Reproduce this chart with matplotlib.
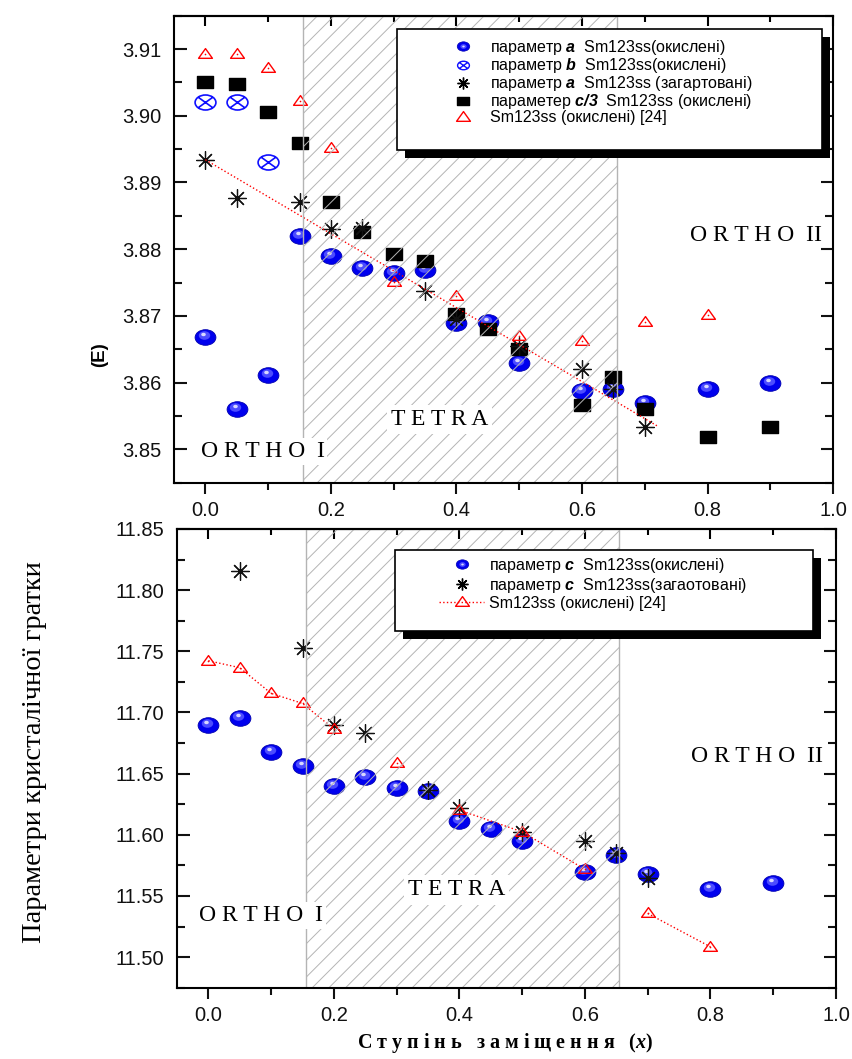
import matplotlib
matplotlib.use("Agg")
import matplotlib.pyplot as plt
import matplotlib.transforms as mtransforms
import numpy as np
from matplotlib.path import Path
from matplotlib.patches import Rectangle
from matplotlib.lines import Line2D
from matplotlib.ticker import MultipleLocator, FormatStrFormatter

plt.rcParams['font.family'] = ['Liberation Sans', 'DejaVu Sans']
plt.rcParams['mathtext.fontset'] = 'custom'
plt.rcParams['mathtext.bf'] = 'Liberation Sans:bold:italic'
plt.rcParams['mathtext.it'] = 'Liberation Serif:bold:italic'
plt.rcParams['mathtext.rm'] = 'Liberation Sans'
plt.rcParams['hatch.linewidth'] = 0.7

# ---------------- data: upper panel (a, b, c/3) ----------------
x_a_ox = [0.0, 0.05, 0.1, 0.15, 0.2, 0.25, 0.3, 0.35, 0.4, 0.45, 0.5, 0.6, 0.65, 0.7, 0.8, 0.9]
a_ox = [3.8669, 3.8560, 3.8611, 3.8820, 3.8790, 3.8772, 3.8765, 3.8769, 3.8690, 3.8691,
        3.8630, 3.8587, 3.8591, 3.8570, 3.8591, 3.8600]

x_b_ox = [0.0, 0.05, 0.1]
b_ox = [3.9020, 3.9020, 3.8930]

x_a_q = [0.0, 0.05, 0.15, 0.2, 0.25, 0.35, 0.4, 0.5, 0.6, 0.65, 0.7]
a_q = [3.8934, 3.8877, 3.8871, 3.8831, 3.8832, 3.8738, 3.8695, 3.8655, 3.8620, 3.8590, 3.8533]

x_c3 = [0.0, 0.05, 0.1, 0.15, 0.2, 0.25, 0.3, 0.35, 0.4, 0.45, 0.5, 0.6, 0.65, 0.7, 0.8, 0.9]
c3_ox = [3.9050, 3.9048, 3.9006, 3.8959, 3.8870, 3.8826, 3.8793, 3.8783, 3.8703, 3.8681,
         3.8651, 3.8567, 3.8609, 3.8561, 3.8519, 3.8533]

x_ref_a = [0.0, 0.05, 0.1, 0.15, 0.2, 0.3, 0.4, 0.5, 0.6, 0.7, 0.8]
ref_a = [3.9092, 3.9092, 3.9072, 3.9022, 3.8952, 3.8751, 3.8730, 3.8670, 3.8662, 3.8691, 3.8702]

# dotted trend line for quenched a
fit_x = [0.0, 0.72]
fit_y = [3.8934, 3.8535]

# ---------------- data: lower panel (c) ----------------
x_c_ox = [0.0, 0.05, 0.1, 0.15, 0.2, 0.25, 0.3, 0.35, 0.4, 0.45, 0.5, 0.6, 0.65, 0.7, 0.8, 0.9]
c_ox = [11.690, 11.6954, 11.6674, 11.6562, 11.640, 11.6474, 11.6385, 11.6355, 11.6114, 11.6044,
        11.595, 11.5697, 11.5834, 11.5676, 11.5553, 11.5602]

x_c_q = [0.05, 0.15, 0.2, 0.25, 0.35, 0.4, 0.5, 0.6, 0.65, 0.7]
c_q = [11.8159, 11.7529, 11.6897, 11.6829, 11.6365, 11.6216, 11.6024, 11.5951, 11.5853, 11.5651]

# nan = missing row (breaks the dotted line)
x_ref_c = [0.0, 0.05, 0.1, 0.15, 0.2, 0.25, 0.3, 0.35, 0.4, 0.5, 0.6, 0.65, 0.7, 0.8]
ref_c = [11.7423, 11.7366, 11.7156, 11.7074, 11.6864, np.nan, 11.6589, np.nan, 11.6202, 11.6024,
         11.5717, np.nan, 11.5357, 11.5084]

tetra_range = (0.155, 0.655)

labels_top = ["параметр $\\mathbf{a}$  Sm123ss(окислені)",
              "параметр $\\mathbf{b}$  Sm123ss(окислені)",
              "параметр $\\mathbf{a}$  Sm123ss (загартовані)",
              "параметер $\\mathbf{c/3}$  Sm123ss (окислені)",
              "Sm123ss (окислені) [24]"]
labels_bot = ["параметр $\\mathbf{c}$  Sm123ss(окислені)",
              "параметр $\\mathbf{c}$  Sm123ss(загаотовані)",
              "Sm123ss (окислені) [24]"]

# ---------------- marker shapes ----------------
ell = Path.unit_circle().transformed(mtransforms.Affine2D().scale(1.0, 0.75))
ell_x = Path.make_compound_path(
    Path.unit_circle().transformed(mtransforms.Affine2D().scale(1.0, 0.72)),
    Path([(-0.72, -0.52), (0.72, 0.52)]),
    Path([(-0.72, 0.52), (0.72, -0.52)]))
rect = Path([(-1, -0.75), (1, -0.75), (1, 0.75), (-1, 0.75), (-1, -0.75)], closed=True)
tri = Path([(-1, -0.55), (1, -0.55), (0, 0.85), (-1, -0.55)], closed=True)
star = (8, 2, 0)

fig = plt.figure(figsize=(8.53, 10.59), dpi=100)
ax1 = fig.add_axes([0.204, 0.5442, 0.7726, 0.441])
ax2 = fig.add_axes([0.2075, 0.0673, 0.7726, 0.4332])


def balls(ax, x, y, ms=15):
    ax.plot(x, y, ls='none', marker=ell, ms=ms, mfc='#0000ee', mec='#0000b0', mew=0.6, zorder=2)
    off = mtransforms.offset_copy(ax.transData, fig=fig, x=-1.5, y=2, units='dots')
    ax.plot(x, y, ls='none', marker=ell, ms=ms * 0.55, mfc='#4c4cff', mec='none',
            transform=off, zorder=2.01)
    off2 = mtransforms.offset_copy(ax.transData, fig=fig, x=-2, y=3, units='dots')
    ax.plot(x, y, ls='none', marker=ell, ms=ms * 0.22, mfc='#d8d8ff', mec='none',
            transform=off2, zorder=2.02)


def ball_handle(ms=9):
    return (Line2D([], [], ls='none', marker=ell, ms=ms, mfc='#0000ee', mec='#0000b0', mew=0.5),
            Line2D([], [], ls='none', marker=ell, ms=ms * 0.5, mfc='#4c4cff', mec='none'),
            Line2D([], [], ls='none', marker=ell, ms=ms * 0.2, mfc='#d8d8ff', mec='none'))


def boxed_legend(ax, box, anchor, handles, labels, spacing):
    x0, y0, w, h = box
    sh = ax.transAxes + mtransforms.ScaledTranslation(0.08, -0.08, fig.dpi_scale_trans)
    ax.add_patch(Rectangle((x0, y0), w, h, transform=sh, facecolor='black',
                           edgecolor='none', zorder=8, clip_on=False))
    ax.add_patch(Rectangle((x0, y0), w, h, transform=ax.transAxes, facecolor='white',
                           edgecolor='black', lw=1.2, zorder=9, clip_on=False))
    leg = ax.legend(handles, labels, loc='upper left', bbox_to_anchor=anchor, frameon=False,
                    borderpad=0, borderaxespad=0, handlelength=2.8, handletextpad=0.3,
                    labelspacing=spacing, fontsize=11.5, numpoints=1)
    leg.set_zorder(10)


def style_axes(ax, ylim, ymaj, ymin, yfmt):
    ax.set_xlim(-0.05, 1.0)
    ax.set_ylim(*ylim)
    ax.xaxis.set_major_locator(MultipleLocator(0.2))
    ax.xaxis.set_minor_locator(MultipleLocator(0.1))
    ax.yaxis.set_major_locator(MultipleLocator(ymaj))
    ax.yaxis.set_minor_locator(MultipleLocator(ymin))
    ax.xaxis.set_major_formatter(FormatStrFormatter('%.1f'))
    ax.yaxis.set_major_formatter(FormatStrFormatter(yfmt))
    ax.tick_params(axis='x', which='both', direction='out', top=False, width=1.5,
                   labelsize=14.5, pad=5, colors='#111111')
    ax.tick_params(axis='x', which='major', length=8)
    ax.tick_params(axis='x', which='minor', length=5)
    ax.tick_params(axis='y', which='both', direction='in', left=True, right=True, width=1.5,
                   labelsize=14.5, pad=9, colors='#111111')
    ax.tick_params(axis='y', which='major', length=9)
    ax.tick_params(axis='y', which='minor', length=5.5)
    for s in ax.spines.values():
        s.set_linewidth(1.5)
    sec = ax.secondary_xaxis('top')
    sec.xaxis.set_major_locator(MultipleLocator(0.2))
    sec.xaxis.set_minor_locator(MultipleLocator(0.1))
    sec.tick_params(which='both', direction='in', labeltop=False, width=1.5)
    sec.tick_params(which='major', length=7)
    sec.tick_params(which='minor', length=4)
    sec.spines['top'].set_linewidth(1.5)
    # hatched tetragonal region (drawn over the markers like in the original)
    ax.axvspan(*tetra_range, facecolor='none', edgecolor='#b4b4b4', hatch='//', lw=1.0, zorder=2.5)


def phase_labels(ax, pos_o1, pos_t, pos_o2):
    kw = dict(family='Liberation Serif', fontsize=17, ha='center', va='center', zorder=4)
    ax.text(*pos_o1, "O R T H O  I", bbox=dict(facecolor='white', edgecolor='none', pad=2), **kw)
    ax.text(*pos_t, "T E T R A", bbox=dict(facecolor='white', edgecolor='none', pad=3), **kw)
    ax.text(*pos_o2, "O R T H O  II", **kw)


# ---------------- upper panel ----------------
balls(ax1, x_a_ox, a_ox)
ax1.plot(x_b_ox, b_ox, ls='none', marker=ell_x, ms=15, mfc='none', mec='#1010ff', mew=1.2, zorder=2)
ax1.plot(x_c3, c3_ox, ls='none', marker=rect, ms=11, mfc='black', mec='black', zorder=2.1)
ax1.plot(x_a_q, a_q, ls='none', marker=star, ms=13, mec='#111111', mew=0.9, zorder=2.2)
ax1.plot(x_ref_a, ref_a, ls='none', marker=tri, ms=10, mfc='none', mec='red', mew=1.0, zorder=2.3)
ax1.plot(x_ref_a, ref_a, ls='none', marker='o', ms=1.2, mfc='red', mec='none', zorder=2.3)
ax1.plot(fit_x, fit_y, ls=':', color='red', lw=1.0, zorder=2.3)
style_axes(ax1, (3.845, 3.915), 0.01, 0.005, '%.2f')
phase_labels(ax1, (0.091, 3.8497), (0.373, 3.8545), (0.877, 3.882))

h_top = [ball_handle(),
         Line2D([], [], ls='none', marker=ell_x, ms=8.5, mfc='none', mec='#1010ff', mew=1.0),
         Line2D([], [], ls='none', marker=star, ms=8.5, mec='black', mew=1.0),
         Line2D([], [], ls='none', marker=rect, ms=8, mfc='black', mec='black'),
         Line2D([], [], ls='none', marker=tri, ms=10, mfc='none', mec='red', mew=1.0)]
boxed_legend(ax1, (0.3384, 0.7124, 0.6449, 0.2591), (0.4044, 0.952), h_top, labels_top, -0.06)

# ---------------- lower panel ----------------
balls(ax2, x_c_ox, c_ox)
ax2.plot(x_c_q, c_q, ls='none', marker=star, ms=13, mec='#111111', mew=0.9, zorder=2.2)
ax2.plot(x_ref_c, ref_c, ls=':', color='red', lw=1.0, marker=tri, ms=10, mfc='none',
         mec='red', mew=1.0, zorder=2.3)
ax2.plot(x_ref_c, ref_c, ls='none', marker='o', ms=1.2, mfc='red', mec='none', zorder=2.3)
style_axes(ax2, (11.475, 11.85), 0.05, 0.025, '%.2f')
phase_labels(ax2, (0.0845, 11.534), (0.3955, 11.555), (0.874, 11.664))

h_bot = [ball_handle(),
         Line2D([], [], ls='none', marker=star, ms=8.5, mec='black', mew=1.0),
         Line2D([], [], ls=':', color='red', lw=1.0, marker=tri, ms=10, mfc='none', mec='red', mew=1.0)]
boxed_legend(ax2, (0.3308, 0.7776, 0.6343, 0.1766), (0.3983, 0.9411), h_bot, labels_bot, 0.06)

# ---------------- axis titles ----------------
fig.text(505 / 853, 1 - 1043 / 1059,
         "С т у п і н ь   з а м і щ е н н я   ($\\mathit{x}$)",
         family='Liberation Serif', fontweight='bold', fontsize=14.5, ha='center', va='center')
fig.text(35 / 853, 1 - 752 / 1059, "Параметри кристалічної гратки",
         family='Liberation Serif', fontsize=20.5, rotation=90, ha='center', va='center')
fig.text(100 / 853, 1 - 355 / 1059, "(E)", fontweight='bold', fontsize=13.5,
         rotation=90, ha='center', va='center')

fig.savefig("out.png", dpi=100)
